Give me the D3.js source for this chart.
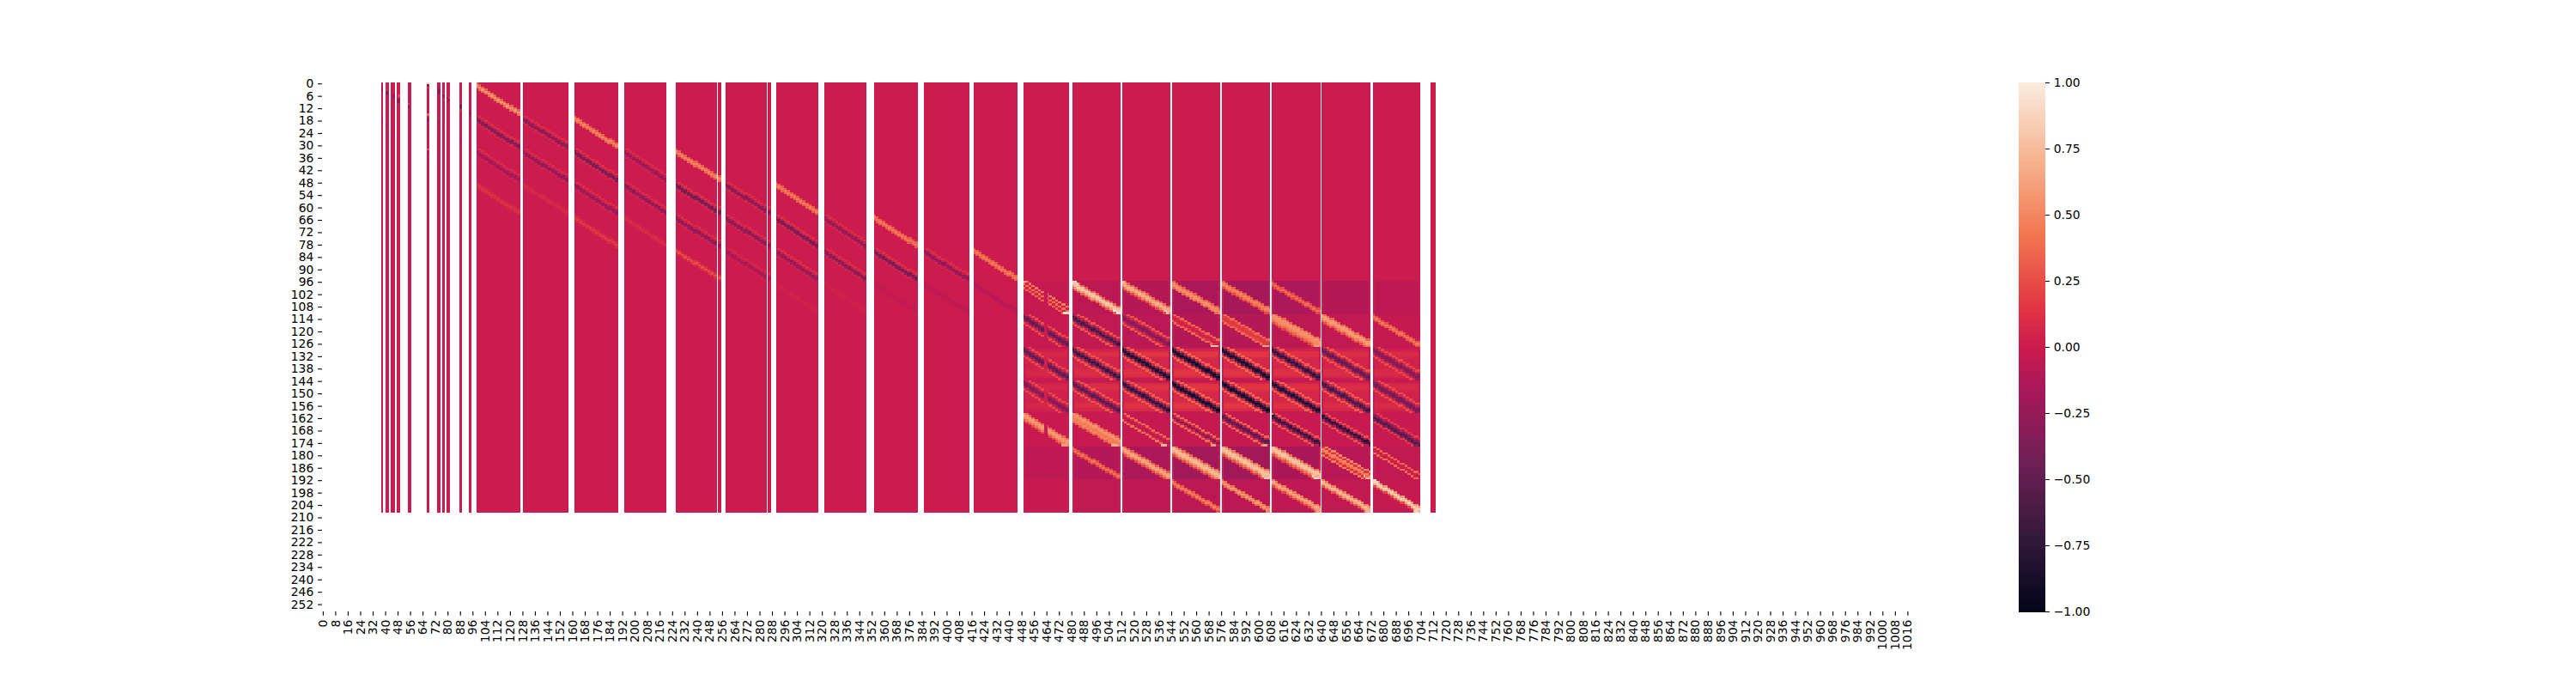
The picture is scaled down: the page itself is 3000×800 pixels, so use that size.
<!DOCTYPE html>
<html>
<head>
<meta charset="utf-8">
<script src="https://cdn.jsdelivr.net/npm/d3@7"></script>
<style>
html,body{margin:0;padding:0;background:#fff}
text{font-family:"DejaVu Sans",sans-serif;font-size:13.89px;fill:#000}
</style>
</head>
<body>
<div id="chart"></div>
<script>
// Matrix shape and axis labels
const rowCount = 256;
const colCount = 1024;
const rowTicks = d3.range(0, rowCount, 6);
const colTicks = d3.range(0, colCount, 8);
const colorbarTicks = [-1, -0.75, -0.5, -0.25, 0, 0.25, 0.5, 0.75, 1];

// Rocket palette stops
const rocketPositions = [0, 1/7, 2/7, 3/7, 0.5, 4/7, 5/7, 6/7, 1];
const rocketColors = ["#03051a","#35193e","#701f57","#ad1759","#cb1b4f","#e13342","#f37651","#f6b48f","#faebdd"];

// Filled column spans [first, lastExclusive]; everything else is empty (NaN)
const filledSpans = [[38,39],[41,43],[44,47],[48,50],[55,57],[67,69],[74,76],[77,79],[80,82],[88,90],[94,96],
  [99,127],[129,158],[162,190],[194,221],[227,253],[254,256],[259,285],[286,288],[291,318],[322,349],
  [354,382],[386,415],[418,446],[450,479],[481,512],[513,544],[545,576],[577,608],[609,640],[641,672],[674,704],[711,714]];
const lastFilledRow = 208;

// Isolated cells of the narrow columns: [col, row, value]
const sparseCells = [[38,2,-.35],[38,3,-.3],[41,4,-.28],[42,4,-.25],[41,5,-.3],[42,5,-.28],[41,3,.12],
  [45,6,-.2],[46,6,-.28],[46,7,-.32],[45,7,-.18],[48,8,-.28],[49,8,-.3],[49,6,.3],[48,9,-.28],[49,9,-.25],
  [55,10,.2],[55,11,-.3],[55,12,-.3],[67,0,.85],[68,0,.85],[67,1,-.35],[68,1,-.35],[67,2,.15],[68,2,.12],
  [67,15,.4],[68,15,.4],[67,17,-.2],[68,17,-.2],[67,18,-.18],[68,18,-.18],[67,32,.3],[68,32,.3],
  [74,3,-.2],[75,3,-.15],[74,4,-.3],[75,4,-.3],[74,5,-.2],[77,5,.1],[77,6,-.3],[78,6,-.28],[78,8,.1],[80,7,-.25],[81,7,.12],[81,8,-.28],[80,9,-.2],
  [88,11,-.4],[89,11,-.42],[88,12,-.4],[89,12,-.38],[88,13,.12],[89,13,.12],[94,14,-.28],[95,14,-.26],[94,15,-.22],[95,15,-.24],
  [38,19,-.12],[41,20,-.12],[45,22,-.1],[46,23,-.1],[48,24,-.1],[55,27,-.12],[67,33,-.1],[68,34,-.1],[74,19,-.12],[77,22,-.12],[88,29,-.08],[94,31,-.08]];

// Diagonal bands of the upper-left blocks: [firstCol, lastColExclusive, startRow, cross-section from top to bottom]
const leftBands = [
  [99,127,0,[.36,.58,.4]],[99,127,16,[.12,.02,-.38,-.26,.07]],[99,127,32,[.1,.01,-.2,-.14,.04]],[99,127,48,[.06,.13,.08]],
  [129,158,16,[.12,.02,-.32,-.22,.07]],[129,158,32,[.1,.01,-.28,-.2,.05]],[129,158,48,[.04,.09,.05]],
  [162,190,16,[.34,.5,.36]],[162,190,32,[.13,.02,-.42,-.3,.07]],[162,190,48,[.12,.01,-.26,-.18,.04]],[162,190,64,[.08,.17,.09]],
  [194,221,32,[.1,.01,-.25,-.16,.05]],[194,221,48,[.1,.01,-.3,-.2,.05]],[194,221,64,[.05,.11,.05]],
  [227,256,32,[.34,.5,.36]],[227,256,48,[.13,.02,-.45,-.34,.07]],[227,256,64,[.12,.01,-.3,-.2,.04]],[227,256,80,[.12,.26,.1]],
  [259,288,48,[.12,.01,-.34,-.22,.07]],[259,288,64,[.1,.01,-.34,-.22,.05]],[259,288,80,[.07,.01,-.17,-.1,.03]],
  [291,318,48,[.32,.46,.32]],[291,318,64,[.13,.02,-.42,-.3,.06]],[291,318,80,[.13,.01,-.28,-.18,.04]],[291,318,96,[.02,.04,.02]],
  [322,349,64,[.12,.01,-.28,-.18,.06]],[322,349,80,[.12,.01,-.34,-.22,.06]],[322,349,96,[.02,.03,.02]],
  [354,382,64,[.32,.44,.32]],[354,382,80,[.13,.02,-.44,-.3,.05]],[354,382,96,[-.02,-.05,-.02]],
  [386,415,80,[.12,.01,-.3,-.2,.05]],[386,415,96,[-.03,-.07,-.03]],
  [418,446,80,[.32,.44,.32]],[418,446,96,[-.05,-.11,-.05]]
];

// Lower-right blocks and their 16-row panels
const rightBlocks = [[450,479],[481,512],[513,544],[545,576],[577,608],[609,640],[641,672],[674,704]];
const rightPanels = [96,112,128,144,160,176,192];
const splitBlockGap = [463,464]; // empty stretch in the first of the right blocks

// Background tint per panel (rows) and block (columns)
const panelTints = [
  [-.03,-.07,-.1,-.15,-.17,-.14,-.1,-.06],
  [-.02,-.05,-.08,-.1,-.1,-.07,-.05,-.03],
  [.03,.05,.06,.07,.07,.06,.05,.04],
  [.03,.05,.06,.07,.07,.06,.05,.04],
  [-.02,-.02,-.03,-.03,-.03,-.02,-.02,-.02],
  [-.06,-.11,-.15,-.2,-.2,-.16,-.09,-.05],
  [-.02,-.05,-.06,-.07,-.07,-.06,-.05,-.03]
];
// Horizontal light bands inside panels 2 and 3, by row within the panel
const bandRowValues = [-.12,-.02,.06,.08,.06,.01,0,0,0,0,.01,.06,.08,.06,.01,-.08];
const bandBlockWeight = [.5,.8,1,1.1,1.1,.9,.7,.6];
const bandPanels = [2,3];

// Band cross-sections per panel and block, top to bottom (empty: no band)
const rightProfiles = [
  [[.46,.04,.4,.04,.36],[.36,.76,.82,.62,.32],[.36,.64,.7,.5,.22],[.32,.52,.55,.36],[.34,.5,.42,.22],[.24,.4,.22],[],[]],
  [[.26,.03,-.32,-.52,-.32,.04,.26],[.3,.02,-.36,-.68,-.38,.04,.3],[.3,.06,-.18,-.38,-.18,.06,.3],[.38,.1,.02,.1,.38],[.38,.2,.15,.2,.38],[.38,.56,.54,.5,.38,.2],[.38,.6,.6,.46,.26],[.28,.44,.3]],
  [[.24,.04,-.34,-.55,-.34,.04,.24],[.3,.06,-.42,-.75,-.46,.06,.3],[.34,.08,-.55,-.88,-.6,.08,.34],[.38,.08,-.6,-.94,-.66,.08,.38],[.38,.08,-.6,-.92,-.64,.08,.38],[.34,.08,-.48,-.78,-.52,.08,.34],[.3,.08,-.34,-.52,-.34,.08,.3],[.24,.06,-.22,-.38,-.22,.06,.24]],
  [[.24,.04,-.22,-.4,-.18,.04,.24],[.3,.05,-.32,-.58,-.34,.05,.3],[.34,.08,-.48,-.78,-.5,.08,.34],[.38,.08,-.6,-.94,-.65,.08,.38],[.38,.08,-.62,-.95,-.66,.08,.38],[.36,.08,-.55,-.86,-.6,.08,.36],[.32,.08,-.42,-.68,-.46,.08,.32],[.26,.05,-.28,-.46,-.3,.05,.26]],
  [[.38,.58,.58,.46,.24],[.38,.58,.5,.44,.5,.32],[.38,.05,-.08,.05,.42],[.38,.03,-.36,.03,.38],[.35,-.02,-.56,-.46,-.02,.35],[.3,-.08,-.75,-.58,-.08,.3],[.26,-.08,-.8,-.6,-.08,.26],[.18,-.08,-.4,-.6,-.34,.18]],
  [[],[.26,.42,.22],[.32,.6,.66,.46,.22],[.38,.66,.76,.68,.46,.22],[.42,.7,.8,.72,.46,.22],[.42,.76,.8,.68,.42,.22],[.5,.14,.5,.4,.12,.44],[.36,.02,.02,.38]],
  [[],[],[],[.32,.48,.26],[.42,.6,.4],[.46,.66,.52,.22],[.48,.74,.64,.3],[.58,.88,.68,.22]]
];

// Brighter cells where bands begin or end: [col, row, value]
const accentCells = [[481,96,.9],[482,96,.95],[483,96,.95],[484,97,.92],[507,110,.95],[508,110,.98],[509,111,1],[510,111,1],[511,111,.9],
  [450,96,.7],[451,96,.65],[475,111,.9],[476,111,.95],[477,111,.9],[478,111,.85],
  [513,96,.75],[514,96,.8],[540,110,.85],[541,111,.8],[542,111,.8],
  [609,160,.55],
  [570,127,.8],[571,127,.8],[572,127,.8],[573,127,.78],[574,127,.68],[603,127,.66],[604,127,.68],[605,127,.68],[606,127,.64],[636,127,.62],[637,127,.65],[638,127,.65],
  [474,175,.6],[475,175,.62],[476,175,.62],[477,175,.6],[506,175,.66],[507,175,.68],[508,175,.7],[509,175,.68],[510,175,.6],[538,175,.72],[539,175,.75],[540,175,.75],[541,175,.7],[570,175,.58],[571,175,.6],[572,175,.6],[603,175,.58],[604,175,.6],[605,175,.58],
  [606,191,.85],[605,191,.85],[604,191,.82],[603,190,.85],[638,191,.9],[637,191,.92],[636,191,.9],[635,190,.9],
  [669,191,.72],[670,191,.78],[671,191,.7],[668,190,.7],[670,207,.72],[669,207,.7],[671,207,.7],[669,206,.68],[670,206,.7],[671,206,.68],[670,205,.65],
  [638,207,.6],[637,207,.58],[639,207,.58],[638,206,.58],[637,206,.56],[606,207,.5],[605,207,.5],[607,207,.46],[606,206,.5],
  [702,207,.85],[701,207,.85],[700,207,.82],[702,206,.85],[701,206,.85],[702,205,.8],[701,205,.75],
  [674,192,.95],[675,192,.95],[676,193,.9],[675,193,.85]];

// Build the matrix from the tables above
const isFilled = new Uint8Array(colCount);
filledSpans.forEach(([a,b]) => d3.range(a,b).forEach(c => isFilled[c] = 1));
const matrix = d3.range(colCount).map(() => new Array(rowCount).fill(null));
d3.range(colCount).filter(c => isFilled[c]).forEach(c => d3.range(lastFilledRow).forEach(r => matrix[c][r] = 0));
const setCell = (c,r,v) => { if (isFilled[c] && r>=0 && r<lastFilledRow) matrix[c][r] = v; };

rightBlocks.forEach(([a,b],bi) => rightPanels.forEach((top,pi) => {
  d3.range(a+1,b-1).forEach(c => d3.range(16).forEach(k => {
    const band = bandPanels.includes(pi) ? bandRowValues[k]*bandBlockWeight[bi] : 0;
    setCell(c, top+k, panelTints[pi][bi]+band);
  }));
}));

// A band runs corner to corner of its 16-row panel; its outer lines are cut off at the panel edge
function drawBand(first, last, top, profile, skip) {
  const n = last-first, w = profile.length;
  d3.range(first,last).forEach(c => {
    if (skip && skip.includes(c)) return;
    const center = top + 1.4 + (c-first)*13/(n-1);
    const start = Math.round(center-(w-1)/2);
    profile.forEach((v,k) => { const r = start+k; if (r>=top && r<top+16) setCell(c,r,v); });
  });
}
leftBands.forEach(([a,b,r,p]) => drawBand(a,b,r,p));
rightPanels.forEach((top,pi) => rightBlocks.forEach(([a,b],bi) => {
  const p = rightProfiles[pi][bi];
  if (p.length) drawBand(a,b,top,p, bi===0 ? splitBlockGap : null);
}));
sparseCells.forEach(([c,r,v]) => setCell(c,r,v));
accentCells.forEach(([c,r,v]) => setCell(c,r,v));

// Vertical runs of equal value become one rectangle each
const runs = [];
d3.range(colCount).filter(c => isFilled[c]).forEach(c => {
  let r = 0;
  while (r < rowCount) {
    const v = matrix[c][r];
    if (v === null) { r++; continue; }
    let e = r+1;
    while (e < rowCount && matrix[c][e] === v) e++;
    runs.push({c, r, e, v});
    r = e;
  }
});

const width = 3000, height = 800;
const x = d3.scaleLinear().domain([0,colCount]).range([375,2235]);
const y = d3.scaleLinear().domain([0,rowCount]).range([96,712]);
const color = d3.scaleLinear()
  .domain(rocketPositions.map(p => -1+2*p))
  .range(rocketColors)
  .interpolate(d3.interpolateRgb)
  .clamp(true);

const svg = d3.select("#chart").append("svg")
  .attr("width",width).attr("height",height)
  .attr("viewBox",[0,0,width,height])
  .style("display","block");

svg.append("g").attr("shape-rendering","crispEdges")
  .selectAll("rect").data(runs).join("rect")
  .attr("x",d=>x(d.c)).attr("width",d=>x(d.c+1)-x(d.c))
  .attr("y",d=>y(d.r)).attr("height",d=>y(d.e)-y(d.r))
  .attr("fill",d=>color(d.v));

// Axes: ticks sit at cell centres, no spines
const styleAxis = g => {
  g.select(".domain").remove();
  g.selectAll(".tick line").attr("stroke","#000").attr("stroke-width",1.1);
  g.selectAll("text").attr("fill","#000").style("font-family",'"DejaVu Sans",sans-serif').style("font-size","13.89px");
};
svg.append("g").attr("transform","translate(375,0)")
  .call(d3.axisLeft(y).tickValues(rowTicks.map(t=>t+.5)).tickFormat(t=>String(t-.5)).tickSize(4.86).tickPadding(4.86))
  .call(styleAxis);
const xAxis = svg.append("g").attr("transform","translate(0,712)")
  .call(d3.axisBottom(x).tickValues(colTicks.map(t=>t+.5)).tickFormat(t=>String(t-.5)).tickSize(4.86).tickPadding(4.86))
  .call(styleAxis);
xAxis.selectAll("text")
  .attr("transform","rotate(-90)")
  .attr("text-anchor","end")
  .attr("x",-9.7).attr("y",0).attr("dx",0).attr("dy",".33em");

// Colorbar
const cbY = d3.scaleLinear().domain([-1,1]).range([712,96]);
const cbLevels = d3.range(256).map(i => -1+2*i/255);
svg.append("g").attr("shape-rendering","crispEdges")
  .selectAll("rect").data(cbLevels).join("rect")
  .attr("x",2351).attr("width",31)
  .attr("y",(d,i)=>cbY(-1+2*(i+1)/256)).attr("height",616/256+.5)
  .attr("fill",d=>color(d));
svg.append("g").attr("transform","translate(2382,0)")
  .call(d3.axisRight(cbY).tickValues(colorbarTicks).tickFormat(d=>d3.format(".2f")(d).replace("-","\u2212")).tickSize(4.86).tickPadding(4.86))
  .call(styleAxis);
</script>
</body>
</html>
